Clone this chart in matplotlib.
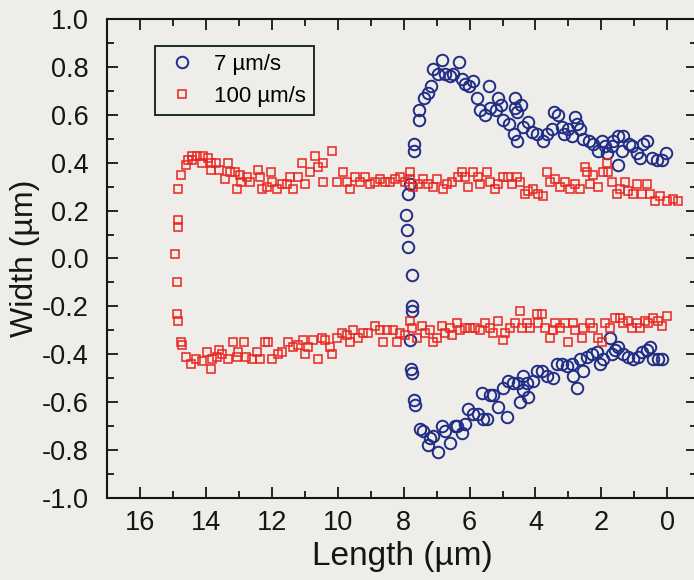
import matplotlib
matplotlib.use("Agg")
import matplotlib.pyplot as plt
from matplotlib.ticker import MultipleLocator

plt.rcParams['font.family'] = ['Liberation Sans', 'DejaVu Sans']

# 7 um/s: upper edge
slow_top_x = [7.69, 7.69, 7.54, 7.54, 7.39, 7.26, 7.17, 7.11, 6.96, 6.84, 6.75, 6.60,
              6.50, 6.32, 6.23, 6.14, 6.02, 5.90, 5.78, 5.68, 5.53, 5.41, 5.38, 5.20,
              5.14, 5.05, 4.98, 4.80, 4.65, 4.62, 4.62, 4.56, 4.56, 4.44, 4.38, 4.22,
              4.10, 3.95, 3.77, 3.65, 3.50, 3.43, 3.31, 3.19, 3.13, 3.01, 2.89, 2.80,
              2.74, 2.64, 2.55, 2.37, 2.25, 2.10, 1.98, 1.88, 1.82, 1.67, 1.64, 1.49,
              1.49, 1.37, 1.34, 1.16, 1.06, 0.91, 0.82, 0.73, 0.61, 0.46, 0.30, 0.15,
              0.03]
slow_top_y = [0.48, 0.45, 0.62, 0.58, 0.67, 0.69, 0.72, 0.79, 0.77, 0.83, 0.77, 0.76,
              0.77, 0.82, 0.75, 0.73, 0.72, 0.74, 0.67, 0.62, 0.60, 0.72, 0.63, 0.62,
              0.67, 0.64, 0.58, 0.56, 0.52, 0.67, 0.63, 0.61, 0.49, 0.64, 0.55, 0.57,
              0.53, 0.52, 0.49, 0.52, 0.54, 0.61, 0.60, 0.55, 0.52, 0.54, 0.51, 0.59,
              0.56, 0.54, 0.50, 0.49, 0.48, 0.45, 0.49, 0.47, 0.44, 0.47, 0.49, 0.51,
              0.39, 0.45, 0.51, 0.48, 0.47, 0.44, 0.42, 0.48, 0.49, 0.42, 0.41, 0.41,
              0.44]

# 7 um/s: closing front
slow_front_x = [7.81, 7.87, 7.93, 7.90, 7.87, 7.75, 7.75, 7.75, 7.81, 7.78, 7.75, 7.69, 7.66]
slow_front_y = [0.31, 0.27, 0.18, 0.12, 0.05, -0.07, -0.20, -0.22, -0.34, -0.46, -0.48, -0.59, -0.61]

# 7 um/s: lower edge
slow_bot_x = [7.51, 7.42, 7.26, 7.20, 7.11, 6.96, 6.84, 6.75, 6.60, 6.44, 6.38, 6.23,
              6.14, 6.05, 5.90, 5.74, 5.62, 5.59, 5.47, 5.38, 5.29, 5.14, 4.98, 4.86,
              4.83, 4.68, 4.53, 4.47, 4.38, 4.38, 4.26, 4.22, 4.07, 3.95, 3.80, 3.65,
              3.47, 3.34, 3.19, 3.04, 2.89, 2.86, 2.74, 2.64, 2.55, 2.43, 2.28, 2.13,
              2.04, 1.95, 1.73, 1.67, 1.58, 1.49, 1.34, 1.19, 1.03, 0.88, 0.76, 0.61,
              0.52, 0.43, 0.27, 0.15]
slow_bot_y = [-0.71, -0.72, -0.78, -0.75, -0.74, -0.81, -0.70, -0.72, -0.77, -0.70, -0.70, -0.73,
              -0.69, -0.63, -0.65, -0.65, -0.56, -0.67, -0.67, -0.57, -0.57, -0.62, -0.54, -0.66,
              -0.51, -0.52, -0.52, -0.60, -0.49, -0.55, -0.52, -0.58, -0.51, -0.47, -0.47, -0.49,
              -0.50, -0.44, -0.44, -0.45, -0.44, -0.49, -0.54, -0.42, -0.47, -0.41, -0.40, -0.39,
              -0.44, -0.42, -0.33, -0.40, -0.38, -0.37, -0.40, -0.41, -0.42, -0.41, -0.39, -0.38,
              -0.37, -0.42, -0.42, -0.42]

# 100 um/s: upper edge
fast_top_x = [14.86, 14.86, 14.86, 14.74, 14.59, 14.53, 14.41, 14.41, 14.26, 14.13, 14.10, 13.95,
              13.83, 13.83, 13.68, 13.59, 13.43, 13.34, 13.28, 13.13, 13.07, 12.98, 12.92, 12.74,
              12.67, 12.43, 12.37, 12.31, 12.16, 12.01, 11.98, 11.85, 11.70, 11.55, 11.46, 11.37,
              11.22, 11.09, 11.00, 10.85, 10.70, 10.61, 10.46, 10.46, 10.18, 10.03, 9.85, 9.73,
              9.64, 9.48, 9.33, 9.18, 9.03, 8.88, 8.72, 8.57, 8.42, 8.27, 8.12, 7.96,
              7.81, 7.81, 7.72, 7.57, 7.42, 7.26, 7.11, 6.99, 6.81, 6.69, 6.53, 6.35,
              6.23, 6.14, 6.05, 5.90, 5.74, 5.68, 5.47, 5.38, 5.23, 5.14, 4.98, 4.83,
              4.71, 4.56, 4.47, 4.32, 4.22, 4.07, 3.92, 3.77, 3.65, 3.56, 3.40, 3.25,
              3.10, 2.95, 2.80, 2.64, 2.49, 2.43, 2.34, 2.25, 2.10, 1.95, 1.82, 1.79,
              1.67, 1.52, 1.43, 1.28, 1.19, 1.03, 0.91, 0.76, 0.61, 0.52, 0.36, 0.21,
              0.00, -0.18, -0.33]
fast_top_y = [0.13, 0.16, 0.29, 0.35, 0.39, 0.41, 0.43, 0.41, 0.43, 0.40, 0.43, 0.42,
              0.40, 0.37, 0.40, 0.37, 0.33, 0.40, 0.36, 0.36, 0.29, 0.35, 0.32, 0.34,
              0.32, 0.37, 0.34, 0.29, 0.30, 0.36, 0.32, 0.29, 0.31, 0.31, 0.34, 0.29,
              0.34, 0.40, 0.31, 0.36, 0.43, 0.38, 0.40, 0.32, 0.45, 0.32, 0.36, 0.32,
              0.29, 0.34, 0.32, 0.34, 0.31, 0.32, 0.33, 0.32, 0.32, 0.33, 0.34, 0.32,
              0.36, 0.33, 0.30, 0.31, 0.33, 0.31, 0.30, 0.33, 0.29, 0.31, 0.32, 0.34,
              0.36, 0.34, 0.30, 0.36, 0.34, 0.31, 0.36, 0.32, 0.29, 0.31, 0.34, 0.34,
              0.31, 0.34, 0.32, 0.27, 0.28, 0.29, 0.27, 0.26, 0.36, 0.32, 0.33, 0.30,
              0.32, 0.29, 0.31, 0.29, 0.38, 0.36, 0.31, 0.35, 0.30, 0.36, 0.40, 0.36,
              0.32, 0.27, 0.29, 0.32, 0.28, 0.27, 0.31, 0.27, 0.31, 0.27, 0.24, 0.26,
              0.24, 0.25, 0.24]

# 100 um/s: closing front
fast_front_x = [14.95, 14.89]
fast_front_y = [0.02, -0.10]

# 100 um/s: lower edge
fast_bot_x = [14.89, 14.86, 14.74, 14.71, 14.59, 14.44, 14.29, 14.13, 13.98, 13.83, 13.80, 13.65,
              13.59, 13.50, 13.34, 13.19, 13.07, 13.04, 12.83, 12.77, 12.61, 12.46, 12.37, 12.22,
              12.13, 11.98, 11.82, 11.70, 11.52, 11.37, 11.22, 11.06, 11.00, 10.91, 10.76, 10.61,
              10.49, 10.40, 10.24, 10.18, 10.03, 9.88, 9.73, 9.64, 9.54, 9.39, 9.24, 9.09,
              8.88, 8.72, 8.63, 8.51, 8.33, 8.21, 8.12, 7.96, 7.81, 7.75, 7.60, 7.45,
              7.36, 7.20, 7.11, 6.99, 6.84, 6.75, 6.60, 6.53, 6.38, 6.29, 6.14, 5.99,
              5.84, 5.68, 5.53, 5.38, 5.29, 5.14, 4.98, 4.92, 4.77, 4.62, 4.47, 4.41,
              4.26, 4.16, 3.95, 3.92, 3.80, 3.71, 3.56, 3.47, 3.40, 3.25, 3.10, 3.01,
              2.86, 2.80, 2.58, 2.55, 2.34, 2.25, 2.10, 1.98, 1.88, 1.73, 1.58, 1.43,
              1.34, 1.19, 1.06, 0.91, 0.82, 0.67, 0.58, 0.43, 0.27, 0.15, 0.00]
fast_bot_y = [-0.23, -0.26, -0.35, -0.36, -0.41, -0.44, -0.42, -0.43, -0.39, -0.46, -0.42, -0.41,
              -0.38, -0.40, -0.42, -0.35, -0.41, -0.39, -0.35, -0.41, -0.42, -0.39, -0.42, -0.35,
              -0.35, -0.42, -0.40, -0.39, -0.35, -0.37, -0.36, -0.34, -0.40, -0.37, -0.34, -0.42,
              -0.33, -0.34, -0.37, -0.40, -0.33, -0.31, -0.32, -0.35, -0.30, -0.33, -0.31, -0.31,
              -0.28, -0.30, -0.35, -0.30, -0.30, -0.35, -0.31, -0.32, -0.26, -0.29, -0.33, -0.28,
              -0.31, -0.30, -0.35, -0.33, -0.28, -0.31, -0.29, -0.32, -0.27, -0.30, -0.29, -0.29,
              -0.29, -0.30, -0.27, -0.29, -0.31, -0.26, -0.34, -0.31, -0.29, -0.27, -0.22, -0.29,
              -0.27, -0.29, -0.23, -0.27, -0.23, -0.29, -0.33, -0.30, -0.27, -0.29, -0.27, -0.35,
              -0.27, -0.30, -0.33, -0.29, -0.27, -0.29, -0.33, -0.35, -0.27, -0.29, -0.25, -0.25,
              -0.27, -0.26, -0.29, -0.27, -0.29, -0.26, -0.27, -0.25, -0.26, -0.28, -0.24]

slow_x = slow_top_x + slow_front_x + slow_bot_x
slow_y = slow_top_y + slow_front_y + slow_bot_y
fast_x = fast_top_x + fast_front_x + fast_bot_x
fast_y = fast_top_y + fast_front_y + fast_bot_y

series_labels = ["7 \u00b5m/s", "100 \u00b5m/s"]

bg = "#eeede9"
ink = "#151515"
blue = "#1f2d86"
red = "#e8261f"

fig = plt.figure(figsize=(6.94, 5.80), dpi=100, facecolor=bg)
ax = fig.add_axes([107 / 694, 82 / 580, 590 / 694, 479 / 580])
ax.set_facecolor(bg)

ax.plot(slow_x, slow_y, linestyle="none", marker="o", markersize=8.3,
        markerfacecolor="none", markeredgecolor=blue, markeredgewidth=1.4,
        label=series_labels[0])
ax.plot(fast_x, fast_y, linestyle="none", marker="s", markersize=6.3,
        markerfacecolor="none", markeredgecolor=red, markeredgewidth=1.1,
        label=series_labels[1])

ax.set_xlim(17.0, -0.9)
ax.set_ylim(-1.0, 1.0)
ax.xaxis.set_major_locator(MultipleLocator(2))
ax.xaxis.set_minor_locator(MultipleLocator(1))
ax.yaxis.set_major_locator(MultipleLocator(0.2))
ax.yaxis.set_minor_locator(MultipleLocator(0.1))
ax.xaxis.set_major_formatter(plt.FuncFormatter(lambda v, p: f"{v:.0f}"))
ax.yaxis.set_major_formatter(plt.FuncFormatter(lambda v, p: f"{v:.1f}"))

ax.tick_params(which="both", direction="in", top=True, right=True,
               color=ink, width=1.3)
ax.tick_params(which="major", length=8, labelsize=19.5, labelcolor=ink)
ax.tick_params(which="minor", length=5)
ax.tick_params(axis="y", which="major", pad=13)
ax.tick_params(axis="x", which="major", pad=9)
for s in ax.spines.values():
    s.set_linewidth(1.5)
    s.set_color(ink)

ax.set_xlabel("Length (\u00b5m)", fontsize=24, color=ink, labelpad=3)
ax.set_ylabel("Width (\u00b5m)", fontsize=23, color=ink)
ax.yaxis.set_label_coords(-0.113, 0.5)

leg = ax.legend(loc="upper left", bbox_to_anchor=(48 / 590, 1 - 27 / 479),
                fontsize=16, frameon=True, fancybox=False, borderpad=0.35,
                handletextpad=0.6, labelspacing=0.5, handlelength=1.7,
                borderaxespad=0.0)
leg.get_frame().set_edgecolor("#1e2e1e")
leg.get_frame().set_linewidth(1.4)
leg.get_frame().set_facecolor(bg)
leg.get_frame().set_alpha(1.0)

fig.savefig("out.png", dpi=100, facecolor=bg)
